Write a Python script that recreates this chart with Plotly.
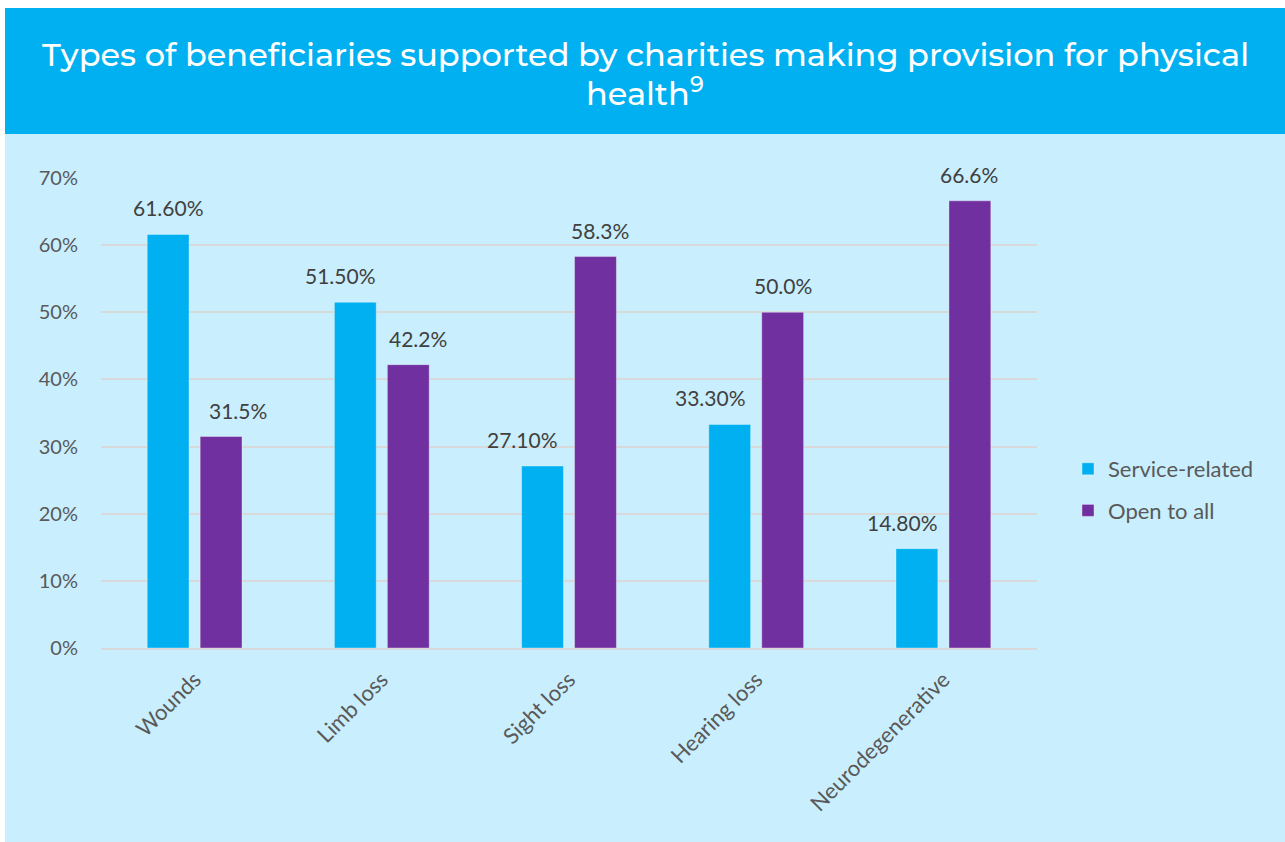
import plotly.graph_objects as go

categories = ["Wounds", "Limb loss", "Sight loss", "Hearing loss", "Neurodegenerative"]
service_related = [0.616, 0.515, 0.271, 0.333, 0.148]
open_to_all = [0.315, 0.422, 0.583, 0.500, 0.666]
y_ticks = [0, 0.1, 0.2, 0.3, 0.4, 0.5, 0.6, 0.7]

# label placement offsets (px, relative to the bar centre) as in the original
service_label_dx = [0, -15, -20, -19, -14]
open_label_dx = [17, 10, 4, 0, -1]

FONT = "Lato, 'Open Sans', sans-serif"
W, H = 1285, 842
L, R, T, B = 101, 1037, 178, 648
BAR_OFFSET = 26.5

def px(x):
    return (x - L) / (R - L)

def py(y):
    return (B - y) / (B - T)

fig = go.Figure()
fig.add_trace(go.Bar(
    name="Service-related", x=categories, y=service_related,
    marker=dict(color="#00B0F0", line=dict(color="rgba(255,255,255,0.35)", width=1)),
    legendgroup="a", cliponaxis=False,
))
fig.add_trace(go.Bar(
    name="Open to all", x=categories, y=open_to_all,
    marker=dict(color="#7030A0", line=dict(color="rgba(255,255,255,0.35)", width=1)),
    legendgroup="b", cliponaxis=False,
))

annotations = []
for cat, v, dx in zip(categories, service_related, service_label_dx):
    annotations.append(dict(x=cat, y=v, xref="x", yref="y", text=f"{v*100:.2f}%",
                            xshift=-BAR_OFFSET + dx, yshift=12, yanchor="bottom", showarrow=False,
                            font=dict(size=21, color="#404040", family=FONT)))
for cat, v, dx in zip(categories, open_to_all, open_label_dx):
    annotations.append(dict(x=cat, y=v, xref="x", yref="y", text=f"{v*100:.1f}%",
                            xshift=BAR_OFFSET + dx, yshift=12, yanchor="bottom", showarrow=False,
                            font=dict(size=21, color="#404040", family=FONT)))

TITLE_FONT = dict(family="Montserrat, 'Open Sans', sans-serif", size=32, color="white", weight=500)
annotations.append(dict(
    text="Types of beneficiaries supported by charities making provision for physical",
    xref="paper", yref="paper", x=px(645), y=py(55), xanchor="center", yanchor="middle",
    showarrow=False, font=TITLE_FONT,
))
annotations.append(dict(
    text="health<sup>9</sup>",
    xref="paper", yref="paper", x=px(645), y=py(91), xanchor="center", yanchor="middle",
    showarrow=False, font=TITLE_FONT,
))

shapes = [
    dict(type="rect", xref="paper", yref="paper", x0=px(5), x1=px(1290), y0=py(850), y1=py(134),
         fillcolor="#C9EEFD", line_width=0, layer="below"),
    dict(type="rect", xref="paper", yref="paper", x0=px(5), x1=px(1290), y0=py(134), y1=py(8),
         fillcolor="#00B0F0", line_width=0, layer="below"),
]

fig.update_layout(
    width=W, height=H,
    margin=dict(l=L, r=W - R, t=T, b=H - B, pad=0),
    paper_bgcolor="white", plot_bgcolor="rgba(0,0,0,0)",
    shapes=shapes, annotations=annotations,
    barmode="group", bargap=0.434, bargroupgap=0.21,
    font=dict(family=FONT, color="#595959", size=20),
    showlegend=True,
    legend=dict(x=px(1068), y=py(490), xanchor="left", yanchor="middle",
                bgcolor="rgba(0,0,0,0)", font=dict(size=22, color="#595959"),
                tracegroupgap=10, traceorder="grouped"),
)
fig.update_yaxes(range=[0, 0.7], tickvals=y_ticks, tickformat=".0%",
                 showgrid=True, gridcolor="#D9D9D9", gridwidth=2, zeroline=False,
                 showline=False, ticks="", tickfont=dict(size=20, color="#595959"),
                 ticklabelstandoff=22)
fig.update_xaxes(tickangle=-45, showline=True, linecolor="#D9D9D9", linewidth=2,
                 ticks="", tickfont=dict(size=22, color="#595959"), ticklabelstandoff=8)

fig.write_html("out.html", config={"displayModeBar": False},
               post_script="document.body.style.margin='0';document.body.style.overflow='hidden';")
